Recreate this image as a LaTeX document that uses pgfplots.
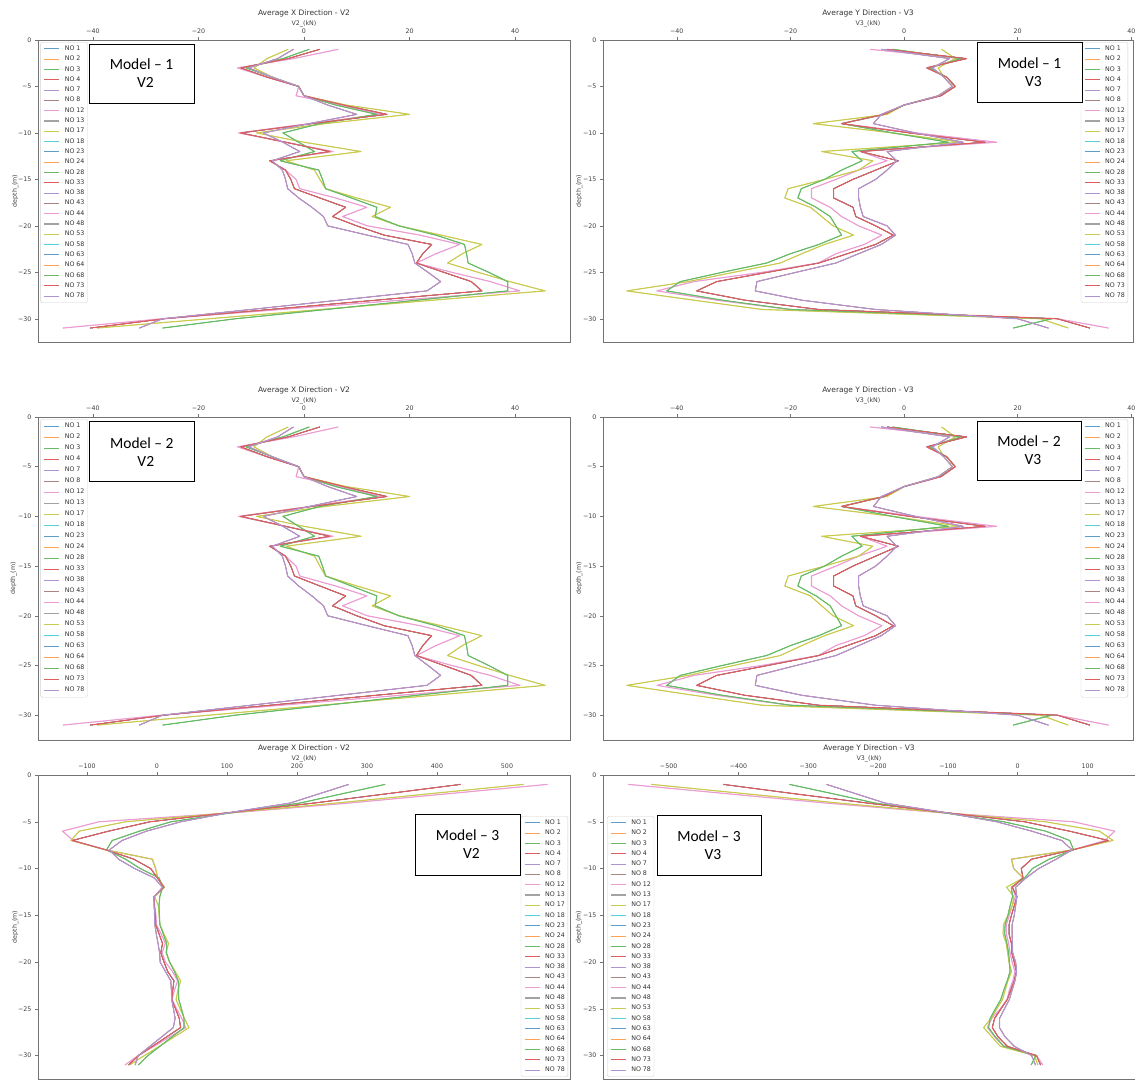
\documentclass[border=0pt]{standalone}
\usepackage{pgfplots}
\pgfplotsset{compat=1.18}
\usepackage{pgfplotstable}
\usepackage{fontspec}
\setmainfont{DejaVu Sans}
\newfontfamily\carlito{Carlito}

\definecolor{tB}{HTML}{1F77B4}
\definecolor{tO}{HTML}{FF7F0E}
\definecolor{tG}{HTML}{2CA02C}
\definecolor{tR}{HTML}{D62728}
\definecolor{tP}{HTML}{9467BD}
\definecolor{tBr}{HTML}{8C564B}
\definecolor{tPk}{HTML}{E377C2}
\definecolor{tGy}{HTML}{7F7F7F}
\definecolor{tOl}{HTML}{BCBD22}
\definecolor{tC}{HTML}{17BECF}
\colorlet{cB}{tB!72!white}
\colorlet{cO}{tO!72!white}
\colorlet{cG}{tG!72!white}
\colorlet{cR}{tR!75!white}
\colorlet{cP}{tP!72!white}
\colorlet{cBr}{tBr!72!white}
\colorlet{cPk}{tPk!72!white}
\colorlet{cGy}{tGy!72!white}
\colorlet{cOl}{tOl!80!white}
\colorlet{cC}{tC!72!white}

% Model 1 / Model 2, V2
\pgfplotstableread{
d ol gr pk rd pu
-1 -3 1 6.5 3 -2
-2 -7 -4 -2 -3 -5
-3 -9.5 -11 -12.6 -12 -10.5
-4 -6 -6 -7 -7 -6
-5 -1 -1 -1 -1 -1
-6 0 0 -1.5 0 0
-7 8 6 7 7.5 4.5
-8 20 13.8 14.5 15.7 10
-9 4 3 1 1.5 1
-10 -9 -4 -12.4 -12 -7.7
-11 0 -1 -3.5 -3.5 -4
-12 10.8 2 5.5 4.9 -0.8
-13 -3.4 -4.5 -6.5 -6.5 -6
-14 2 2.8 -3.5 -3.5 -4.1
-15 3 3.5 -1.5 -2.5 -3.5
-16 4.1 4.1 -0.8 -1.8 -3.1
-17 10 9 6 3 -1
-18 16.4 13.8 11.9 7.9 1.5
-19 12.9 13.5 7.3 5.4 3.7
-20 18 18 12 10 4.5
-21 26 25 22 15.2 12
-22 33.7 30.4 29.5 24.2 19.7
-23 30 30.8 25 22.5 20.5
-24 27.2 31.1 21.3 21.3 21
-25 33 35 28 26.5 23.5
-26 39 38.6 35.3 31.7 25.9
-27 45.7 38.6 40.9 33.7 23.3
-30 -18 -13 -27 -26.5 -26.8
-31 -39.2 -26.8 -45.7 -40.5 -31.2
}\tA

% Model 1 / Model 2, V3
\pgfplotstableread{
d ol gr pk rd pu
-1 6.6 -2 -6 -3 -4
-2 9 10 10 11 8
-3 6 4.5 4 4 5
-4 7 7.5 7.5 7.5 7
-5 8.5 9 9 9 8.5
-6 6 6.3 6.5 6.5 6
-7 0 0 0 0 0
-8 -3 -3.5 -3.5 -3.5 -4
-9 -16 -11 -11 -11 -5.4
-10 -2 -2 2 1 2
-11 10 7.8 16.3 14.3 10.4
-12 -14.5 -9.2 -7.7 -7.7 -3
-13 -5.5 -7.4 -3 -1 -1.3
-14 -8 -11 -8 -5 -3
-15 -14 -14 -12 -9 -5
-16 -20.4 -18.1 -16.3 -12.4 -8
-17 -21 -18.7 -16.3 -12.4 -8
-18 -16.5 -15.5 -13 -9 -7.7
-19 -14.5 -13 -11 -8.5 -7.2
-20 -12.5 -12 -8 -5 -3
-21 -8.9 -11 -3.9 -1.9 -1.5
-22 -14 -15 -7 -5 -4
-23 -18 -20 -12 -10 -8
-24 -21.8 -24.2 -15.1 -15 -12
-25 -30 -32 -25 -24 -19
-26 -38 -39.4 -37 -33 -25.9
-27 -48.8 -41.8 -43.5 -36.5 -26.2
-28 -37 -32 -33 -28 -18
-29 -25 -20 -20 -15 -5
-30 24 26 27 27 20
-31 28.9 19.2 36 32.7 25.4
}\tB

% Model 3, V2
\pgfplotstableread{
d ol gr pk rd pu
-1 524 326 558 434 274
-2 390 265 416 329 232
-3 256 204 274 224 190
-4 110 110 115 105 105
-5 -45 20 -83 -10 34
-6 -111 -25 -135 -69 -15
-7 -123 -64 -120 -121 -50
-8 -73 -72 -73 -73 -68
-9 -6.7 -45 -6.7 -33 -55
-10 -2 -24 -2 -9 -32
-11 1 3 1 0.5 -4
-12 10.8 8 10 10 8
-13 -3.4 4 -4.3 -4.3 -4
-14 2 2.8 -3.5 -3.5 -4.1
-15 3 3.5 -1.5 -2.5 -3.5
-16 4.1 4.1 -0.8 -1.8 -3.1
-17 10 9 6 3 -1
-18 16.4 13.8 11.9 7.9 1.5
-19 12.9 13.5 7.3 5.4 3.7
-20 18 18 12 10 4.5
-21 26 25 22 15.2 12
-22 33.7 30.4 29.5 24.2 19.7
-23 30 30.8 25 22.5 20.5
-24 27.2 31.1 21.3 21.3 21
-25 33 35 28 26.5 23.5
-26 39 38.6 35.3 31.7 25.9
-27 45.7 38.6 40.9 33.7 23.3
-30 -18 -13 -27 -26.5 -26.8
-31 -39.2 -26.8 -45.7 -40.5 -31.2
}\tC

% Model 3, V3
\pgfplotstableread{
d ol gr pk rd pu
-1 -525 -327 -558 -422 -274
-2 -390 -265 -416 -320 -232
-3 -256 -204 -274 -215 -190
-4 -110 -110 -115 -105 -105
-5 40 -20 80 10 -30
-6 117 40 139 74 20
-7 136.6 74.5 125 130 63
-8 79 80 79 79 78
-9 -9 45 -9 20 55
-10 -5.7 21 -5.7 5 30
-11 7.6 10 7.6 7.6 12
-12 -16 -9.2 -7.7 -7.7 -3
-13 -5.5 -7.4 -3 -1 -1.3
-14 -8 -11 -8 -5 -3
-15 -14 -14 -12 -9 -5
-16 -20.4 -18.1 -16.3 -12.4 -8
-17 -21 -18.7 -16.3 -12.4 -8
-18 -16.5 -15.5 -13 -9 -7.7
-19 -14.5 -13 -11 -8.5 -7.2
-20 -12.5 -12 -8 -5 -3
-21 -8.9 -11 -3.9 -1.9 -1.5
-22 -14 -15 -7 -5 -4
-23 -18 -20 -12 -10 -8
-24 -21.8 -24.2 -15.1 -15 -12
-25 -30 -32 -25 -24 -19
-26 -38 -39.4 -37 -33 -25.9
-27 -48.8 -41.8 -43.5 -36.5 -26.2
-28 -37 -32 -33 -28 -18
-29 -25 -20 -20 -15 -5
-30 24 26 27 27 20
-31 28.9 19.2 36 32.7 25.4
}\tD

% series hidden under an identical later series are drawn thinner,
% so that only the topmost line of each group shows its colour
\newcommand{\allseries}[1]{%
\addplot[cB, hid] table[x=rd,y=d]{#1};
\addplot[cO, hid] table[x=pu,y=d]{#1};
\addplot[cG, hid] table[x=gr,y=d]{#1};
\addplot[cR, hid] table[x=rd,y=d]{#1};
\addplot[cP, hid] table[x=pu,y=d]{#1};
\addplot[cBr, hid] table[x=rd,y=d]{#1};
\addplot[cPk, hid] table[x=pk,y=d]{#1};
\addplot[cGy, hid] table[x=pu,y=d]{#1};
\addplot[cOl, hid] table[x=ol,y=d]{#1};
\addplot[cC, hid] table[x=rd,y=d]{#1};
\addplot[cB, hid] table[x=rd,y=d]{#1};
\addplot[cO, hid] table[x=pu,y=d]{#1};
\addplot[cG, hid] table[x=gr,y=d]{#1};
\addplot[cR, hid] table[x=rd,y=d]{#1};
\addplot[cP, hid] table[x=pu,y=d]{#1};
\addplot[cBr, hid] table[x=rd,y=d]{#1};
\addplot[cPk] table[x=pk,y=d]{#1};
\addplot[cGy, hid] table[x=pu,y=d]{#1};
\addplot[cOl] table[x=ol,y=d]{#1};
\addplot[cC, hid] table[x=rd,y=d]{#1};
\addplot[cB, hid] table[x=rd,y=d]{#1};
\addplot[cO, hid] table[x=pu,y=d]{#1};
\addplot[cG] table[x=gr,y=d]{#1};
\addplot[cR] table[x=rd,y=d]{#1};
\addplot[cP] table[x=pu,y=d]{#1};
}

\tikzset{hid/.style={line width=0.45pt}}

\pgfplotsset{
  panel/.style={
    scale only axis,
    axis line style={black!55, line width=0.6pt},
    tick style={black!55, line width=0.5pt},
    tick align=outside,
    major tick length=3pt,
    xtick pos=right, xticklabel pos=right,
    ytick pos=left,
    ymin=-32.5, ymax=0,
    ytick={-30,-25,-20,-15,-10,-5,0},
    yticklabels={−30,−25,−20,−15,−10,−5,0},
    ticklabel style={font=\fontsize{6.3}{7}\selectfont, text=black!75},
    xlabel style={at={(axis description cs:0.5,1)}, anchor=base, yshift=15pt, font=\fontsize{6.3}{7}\selectfont, text=black!75},
    title style={at={(axis description cs:0.5,1)}, anchor=base, yshift=19pt, font=\fontsize{7.5}{8}\selectfont, text=black!80},
    ylabel={depth\_(m)},
    ylabel style={anchor=center, font=\fontsize{6.3}{7}\selectfont, text=black!75},
    every axis plot/.append style={line width=1.1pt, no markers, line join=round, solid},
    legend entries={NO 1,NO 2,NO 3,NO 4,NO 7,NO 8,NO 12,NO 13,NO 17,NO 18,NO 23,NO 24,NO 28,NO 33,NO 38,NO 43,NO 44,NO 48,NO 53,NO 58,NO 63,NO 64,NO 68,NO 73,NO 78},
    legend cell align=left,
    legend image code/.code={\draw[##1, line width=1.1pt] (0pt,0pt) -- (15pt,0pt);},
    legend style={font=\fontsize{6.3}{7}\selectfont, text=black!80, draw=black!18, fill=white,
      rounded corners=1.5pt, inner xsep=3pt, inner ysep=1.5pt, row sep=0pt,
      nodes={inner sep=0pt, minimum height=10.3pt},
      /tikz/every odd column/.append style={column sep=5pt}},
  },
}
\tikzset{
  mbox/.style={draw=black, line width=0.9pt, fill=white, align=center, font=\carlito\fontsize{15.5}{18}\selectfont, inner sep=0pt},
}

\begin{document}
\begin{tikzpicture}
\useasboundingbox (0pt,0pt) rectangle (1135pt,-1079pt);

% Row 1 left
\begin{axis}[panel, at={(38pt,-40pt)}, anchor=north west, width=532pt, height=302pt,
  xmin=-50.4, xmax=50.4, xtick={-40,-20,0,20,40}, xticklabels={−40,−20,0,20,40},
  title={Average X Direction - V2}, xlabel={V2\_(kN)},
  ylabel style={at={(axis description cs:-0.043,0.5)}},
  legend style={at={(axis description cs:0,1)}, anchor=north west, xshift=2.5pt, yshift=-2pt}]
\allseries{\tA}
\end{axis}

% Row 1 right
\begin{axis}[panel, at={(603pt,-40pt)}, anchor=north west, width=530pt, height=302pt,
  xmin=-53, xmax=40.3, xtick={-40,-20,0,20,40}, xticklabels={−40,−20,0,20,40},
  title={Average Y Direction - V3}, xlabel={V3\_(kN)},
  ylabel style={at={(axis description cs:-0.045,0.5)}},
  legend style={at={(axis description cs:1,1)}, anchor=north east, xshift=-5pt, yshift=-2pt}]
\allseries{\tB}
\end{axis}

% Row 2 left
\begin{axis}[panel, at={(38pt,-417pt)}, anchor=north west, width=532pt, height=323pt,
  xmin=-50.4, xmax=50.4, xtick={-40,-20,0,20,40}, xticklabels={−40,−20,0,20,40},
  title={Average X Direction - V2}, xlabel={V2\_(kN)},
  ylabel style={at={(axis description cs:-0.046,0.5)}},
  legend style={at={(axis description cs:0,1)}, anchor=north west, xshift=2.5pt, yshift=-2pt,
    nodes={inner sep=0pt, minimum height=11pt}}]
\allseries{\tA}
\end{axis}

% Row 2 right
\begin{axis}[panel, at={(603pt,-417pt)}, anchor=north west, width=530pt, height=323pt,
  xmin=-53, xmax=40.3, xtick={-40,-20,0,20,40}, xticklabels={−40,−20,0,20,40},
  title={Average Y Direction - V3}, xlabel={V3\_(kN)},
  ylabel style={at={(axis description cs:-0.045,0.5)}},
  legend style={at={(axis description cs:1,1)}, anchor=north east, xshift=-5pt, yshift=-2pt,
    nodes={inner sep=0pt, minimum height=11pt}}]
\allseries{\tB}
\end{axis}

% Row 3 left
\begin{axis}[panel, at={(38pt,-775pt)}, anchor=north west, width=532pt, height=304pt,
  xmin=-170, xmax=590, xtick={-100,0,100,200,300,400,500}, xticklabels={−100,0,100,200,300,400,500},
  title={Average X Direction - V2}, xlabel={V2\_(kN)},
  ylabel style={at={(axis description cs:-0.043,0.5)}},
  legend style={at={(axis description cs:1,1)}, anchor=north east, xshift=-2pt, yshift=-41pt}]
\allseries{\tC}
\end{axis}

% Row 3 right
\begin{axis}[panel, at={(603pt,-775pt)}, anchor=north west, width=532pt, height=304pt,
  xmin=-594, xmax=168, xtick={-500,-400,-300,-200,-100,0,100}, xticklabels={−500,−400,−300,−200,−100,0,100},
  title={Average Y Direction - V3}, xlabel={V3\_(kN)},
  ylabel style={at={(axis description cs:-0.045,0.5)}},
  legend style={at={(axis description cs:0,1)}, anchor=north west, xshift=4pt, yshift=-41pt}]
\allseries{\tD}
\end{axis}

\node[mbox, minimum width=105pt, minimum height=59pt] at (141.5pt,-73.5pt) {Model – 1\\\hspace*{8pt}V2};
\node[mbox, minimum width=105pt, minimum height=60pt] at (1029.5pt,-72pt) {Model – 1\\\hspace*{8pt}V3};
\node[mbox, minimum width=105pt, minimum height=60pt] at (141.8pt,-451.7pt) {Model – 2\\\hspace*{8pt}V2};
\node[mbox, minimum width=104pt, minimum height=59pt] at (1029pt,-450.5pt) {Model – 2\\\hspace*{8pt}V3};
\node[mbox, minimum width=105pt, minimum height=61pt] at (467.5pt,-844.5pt) {Model – 3\\\hspace*{8pt}V2};
\node[mbox, minimum width=104pt, minimum height=60pt] at (709pt,-845pt) {Model – 3\\\hspace*{8pt}V3};
\end{tikzpicture}
\end{document}
